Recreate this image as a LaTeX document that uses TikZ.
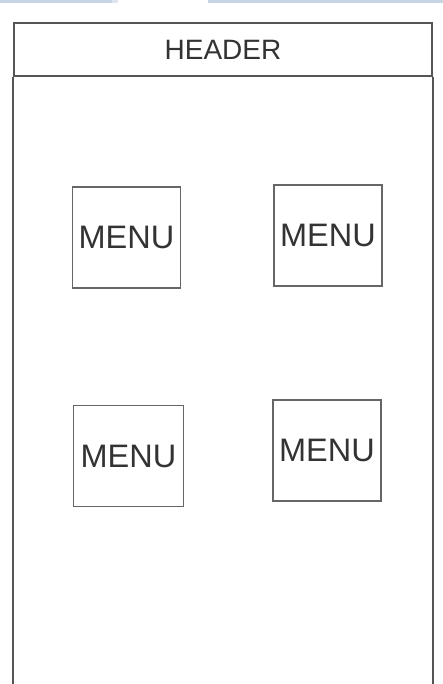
\documentclass[tikz,border=0pt]{standalone}
\usepackage{fontspec}
\setmainfont{Liberation Sans}
\definecolor{linegray}{HTML}{555555}
\definecolor{boxgray}{HTML}{666666}
\definecolor{txtgray}{HTML}{333333}
\definecolor{stripblue}{HTML}{C6D5E3}
\begin{document}
\begin{tikzpicture}[x=1pt,y=-1pt,
  menubox/.style={draw=boxgray,line width=1.4pt,minimum width=108pt,minimum height=101pt,inner sep=0pt,
    text=txtgray,font=\fontsize{32.5}{32.5}\selectfont},
  headbox/.style={draw=linegray,line width=1.6pt,minimum width=418pt,minimum height=53pt,inner sep=0pt,
    text=txtgray,font=\fontsize{28}{28}\selectfont}]
\useasboundingbox (0,0) rectangle (443,684);
\fill[white] (0,0) rectangle (443,684);
\fill[stripblue] (0,0) rectangle (112,3);
\fill[stripblue!60] (112,0) rectangle (118,3);
\fill[stripblue] (208,0) rectangle (443,3);
\node[headbox] (header) at (223,49.5) {HEADER};
\draw[linegray,line width=1.6pt] (header.south west) -- ++(0,620);
\draw[linegray,line width=1.6pt] (header.south east) -- ++(0,620);
\node[menubox] (m1) at (126.5,237.5) {MENU};
\node[menubox] (m2) at (328,235.5) {MENU};
\node[menubox,minimum width=110pt] (m3) at (128.5,456) {MENU};
\node[menubox] (m4) at (327,450.5) {MENU};
\end{tikzpicture}
\end{document}
